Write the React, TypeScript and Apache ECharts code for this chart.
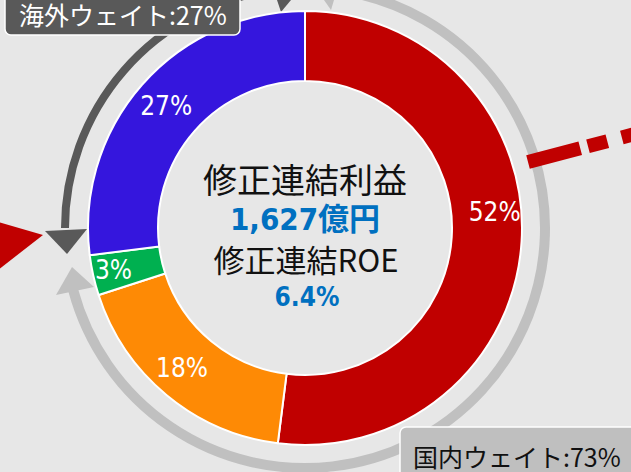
import React, { useEffect, useRef } from "react";
import * as echarts from "echarts";

const categories = ["国内・主力", "国内・周辺", "国内・その他", "海外"];
const shares = [52, 18, 3, 27];
const sliceColors = ["#c00000", "#fe8a05", "#00b050", "#3516dd"];
const centerTitle = "修正連結利益";
const profitText = "1,627億円";
const roeTitle = "修正連結ROE";
const roeText = "6.4%";
const overseasLabel = "海外ウェイト:27%";
const domesticLabel = "国内ウェイト:73%";

const CJK = "'Noto Sans CJK JP', sans-serif";
const NUM = "'Liberation Sans Narrow', 'DejaVu Sans Condensed', Roboto, 'Noto Sans CJK JP', sans-serif";
const deg = (d: number) => (d * Math.PI) / 180;

export default function App() {
  const ref = useRef<HTMLDivElement>(null);
  useEffect(() => {
    if (!ref.current) return;
    const chart = echarts.init(ref.current, undefined, { renderer: "svg" });
    const cx = 305;
    const cy = 228;
    chart.setOption({
      animation: false,
      backgroundColor: "#e7e7e7",
      series: [
        {
          type: "pie",
          center: [cx, cy],
          radius: [147, 217],
          startAngle: 90,
          clockwise: true,
          avoidLabelOverlap: false,
          emphasis: { disabled: true },
          z: 5,
          itemStyle: { borderColor: "#ffffff", borderWidth: 2 },
          label: {
            show: true,
            position: "inside",
            formatter: "{c}%",
            color: "#ffffff",
            fontSize: 26,
            fontFamily: NUM,
          },
          labelLine: { show: false },
          labelLayout: (p: any) => {
            if (p.dataIndex === 0) return { dx: 5, dy: -28 };
            if (p.dataIndex === 2) return { dx: -11, dy: 2 };
            if (p.dataIndex === 1) return { dx: -5, dy: -3 };
            return {};
          },
          data: categories.map((name, i) => ({
            name,
            value: shares[i],
            itemStyle: { color: sliceColors[i] },
          })),
        },
      ],
      graphic: {
        elements: [
          {
            type: "arc",
            z: 1,
            shape: { cx, cy, r: 240, startAngle: deg(-80), endAngle: deg(165), clockwise: true },
            style: { stroke: "#c0c0c0", lineWidth: 10, fill: null },
          },
          {
            type: "polygon",
            z: 1,
            shape: { points: [[72, 267], [56, 295], [94, 287]] },
            style: { fill: "#c0c0c0" },
          },
          {
            type: "arc",
            z: 1,
            shape: { cx, cy, r: 240, startAngle: deg(180), endAngle: deg(262), clockwise: true },
            style: { stroke: "#595959", lineWidth: 8, fill: null },
          },
          {
            type: "polygon",
            z: 1,
            shape: { points: [[45, 231], [87, 229], [67, 254]] },
            style: { fill: "#595959" },
          },
          {
            type: "polygon",
            z: 1,
            shape: { points: [[277, 0], [291, 0], [281, 12]] },
            style: { fill: "#595959" },
          },
          {
            type: "polygon",
            z: 1,
            shape: { points: [[324, 0], [334, 0], [331, 10]] },
            style: { fill: "#c0c0c0" },
          },
          {
            type: "line",
            z: 3,
            shape: { x1: 528, y1: 162, x2: 660, y2: 127.4 },
            style: { stroke: "#c00000", lineWidth: 14, lineDash: [54, 8, 20, 15] },
          },
          {
            type: "polygon",
            z: 3,
            shape: { points: [[-2, 222], [43, 235], [-2, 270]] },
            style: { fill: "#c00000" },
          },
          {
            type: "text",
            z: 10,
            x: cx,
            y: 178,
            style: { text: centerTitle, fill: "#111111", fontSize: 34, fontFamily: CJK, align: "center", verticalAlign: "middle" },
          },
          {
            type: "text",
            z: 10,
            x: cx,
            y: 219,
            style: { text: profitText, fill: "#0070c0", fontSize: 31, fontWeight: "bold", fontFamily: NUM, align: "center", verticalAlign: "middle" },
          },
          {
            type: "text",
            z: 10,
            x: cx + 1,
            y: 258,
            style: { text: roeTitle, fill: "#111111", fontSize: 31, fontFamily: CJK, align: "center", verticalAlign: "middle" },
          },
          {
            type: "text",
            z: 10,
            x: cx + 2,
            y: 297,
            style: { text: roeText, fill: "#0070c0", fontSize: 26, fontWeight: "bold", fontFamily: NUM, align: "center", verticalAlign: "middle" },
          },
          {
            type: "rect",
            z: 20,
            shape: { x: 5, y: -20, width: 235, height: 55, r: 6 },
            style: { fill: "#595959", stroke: "#ffffff", lineWidth: 1.5 },
          },
          {
            type: "text",
            z: 21,
            x: 19,
            y: 14,
            style: { text: overseasLabel, fill: "#ffffff", fontSize: 25, fontFamily: CJK, align: "left", verticalAlign: "middle" },
          },
          {
            type: "rect",
            z: 20,
            shape: { x: 400, y: 427, width: 260, height: 70, r: 6 },
            style: { fill: "#bfbfbf", stroke: "#ffffff", lineWidth: 1.5 },
          },
          {
            type: "text",
            z: 21,
            x: 413,
            y: 456,
            style: { text: domesticLabel, fill: "#111111", fontSize: 25, fontFamily: CJK, align: "left", verticalAlign: "middle" },
          },
        ],
      },
    });
    return () => chart.dispose();
  }, []);
  return (
    <div
      ref={ref}
      style={{ position: "absolute", left: 0, top: 0, width: 631, height: 472 }}
    />
  );
}
